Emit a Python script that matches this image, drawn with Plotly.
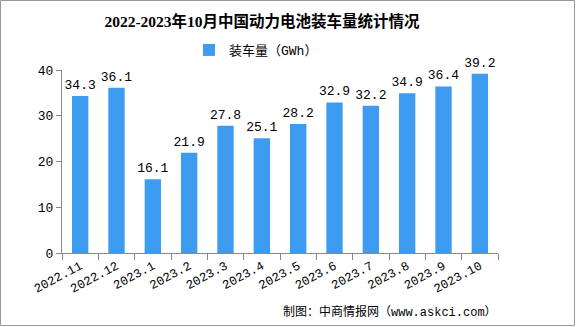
import plotly.graph_objects as go

categories = ["2022.11", "2022.12", "2023.1", "2023.2", "2023.3", "2023.4",
              "2023.5", "2023.6", "2023.7", "2023.8", "2023.9", "2023.10"]
values = [34.3, 36.1, 16.1, 21.9, 27.8, 25.1, 28.2, 32.9, 32.2, 34.9, 36.4, 39.2]

W, H = 576, 327
ml, mr, mt, mb = 62, 78, 70, 74
pw, ph = W - ml - mr, H - mt - mb

serif = "Liberation Serif, Noto Sans CJK SC, serif"
mono = "Liberation Mono, Noto Sans CJK SC, monospace"

fig = go.Figure()
fig.add_trace(go.Bar(
    x=categories, y=values, name="装车量（GWh）",
    marker=dict(color="#3D9CF0", line=dict(width=0)),
    width=0.45,
    text=[f"{v:.1f}" for v in values], textposition="outside",
    constraintext="none",
    textfont=dict(size=13, color="#000000", family=mono),
    cliponaxis=False,
))

fig.update_layout(
    width=W, height=H,
    margin=dict(l=ml, r=mr, t=mt, b=mb),
    paper_bgcolor="white", plot_bgcolor="white",
    title=dict(text="<b>2022-2023年10月中国动力电池装车量统计情况</b>",
               x=262 / W, xanchor="center", y=1 - 22 / H, yanchor="middle",
               font=dict(size=15.5, color="#000000", family=serif)),
    showlegend=True,
    legend=dict(orientation="h", x=(256 - ml) / pw, xanchor="center", y=1 + 20 / ph, yanchor="middle",
                font=dict(size=13, color="#000000", family=mono),
                itemwidth=30),
    xaxis=dict(showline=True, linecolor="#888888", linewidth=1,
               ticks="outside", ticklen=6, tickcolor="#888888",
               tickson="boundaries", tickangle=-28,
               tickfont=dict(size=12.5, color="#000000", family=mono),
               showgrid=False),
    yaxis=dict(range=[0, 40], dtick=10, showline=True, linecolor="#888888", linewidth=1,
               ticks="outside", ticklen=5, tickcolor="#888888",
               tickfont=dict(size=13, color="#000000", family=mono),
               showgrid=False, zeroline=False),
    bargap=0.55,
)

fig.add_annotation(text="制图：中商情报网（www.askci.com）",
                   xref="paper", yref="paper",
                   x=(499 - ml) / pw, y=-(312 - (mt + ph)) / ph,
                   xanchor="right", yanchor="middle", showarrow=False,
                   font=dict(size=12, color="#000000", family=mono))

fig.add_shape(type="rect", xref="paper", yref="paper",
              x0=-(ml - 0.5) / pw, x1=1 + (mr - 1.5) / pw,
              y0=-(mb - 1.5) / ph, y1=1 + (mt - 0.5) / ph,
              line=dict(color="#999999", width=1))

fig.write_html("out.html")
